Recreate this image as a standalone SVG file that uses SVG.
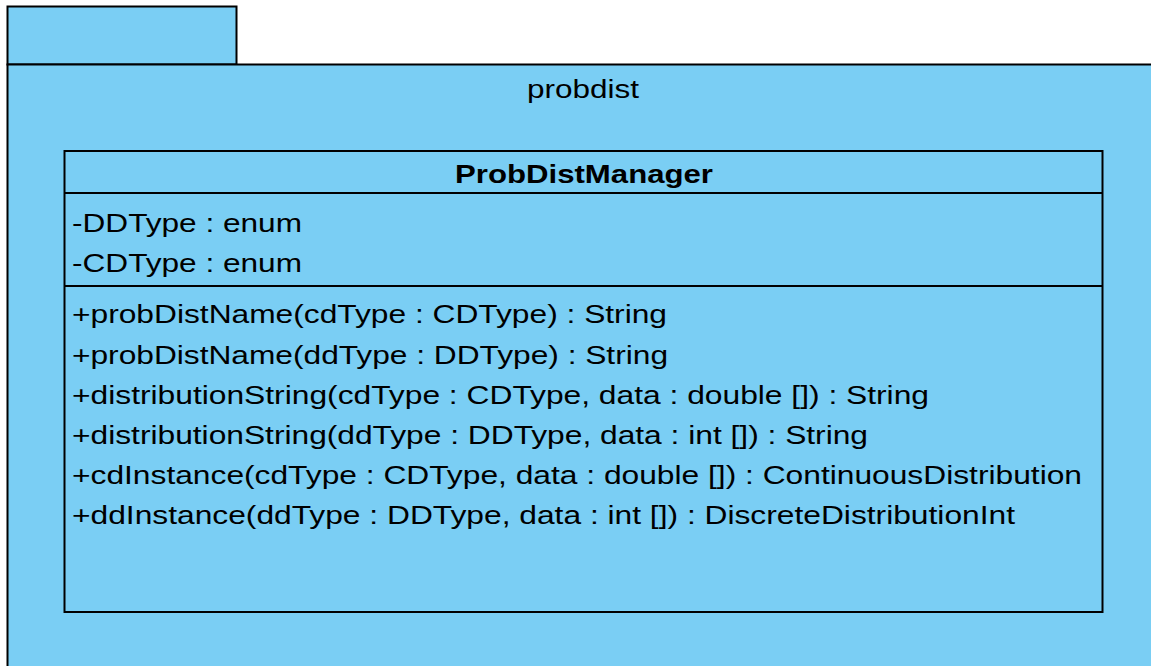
<svg xmlns="http://www.w3.org/2000/svg" width="1151" height="666" viewBox="0 0 1151 666">
<style>
.shape{fill:#7ACEF4;stroke:#000;stroke-width:2}
.ln{stroke:#000;stroke-width:2;fill:none}
.t{font-family:"Liberation Sans",Arial,sans-serif;font-size:25px;fill:#000}
.b{font-weight:bold}
</style>
<rect width="1151" height="666" fill="#fff"/>
<g id="package-probdist">
<rect class="shape" x="7.5" y="6.5" width="229" height="58"/>
<rect class="shape" x="7.5" y="64.5" width="1160" height="620"/>
<text class="t" x="583" y="98" text-anchor="middle" textLength="112" lengthAdjust="spacingAndGlyphs">probdist</text>
</g>
<g id="class-ProbDistManager">
<rect class="shape" x="64.5" y="151" width="1038" height="461"/>
<line class="ln" x1="64.5" y1="193" x2="1102.5" y2="193"/>
<line class="ln" x1="64.5" y1="286" x2="1102.5" y2="286"/>
<text class="t b" x="584" y="183" text-anchor="middle" textLength="258" lengthAdjust="spacingAndGlyphs">ProbDistManager</text>
<text class="t" x="72" y="232" textLength="230" lengthAdjust="spacingAndGlyphs">-DDType : enum</text>
<text class="t" x="72" y="272" textLength="230" lengthAdjust="spacingAndGlyphs">-CDType : enum</text>
<text class="t" x="72" y="323" textLength="595" lengthAdjust="spacingAndGlyphs">+probDistName(cdType : CDType) : String</text>
<text class="t" x="72" y="364" textLength="596" lengthAdjust="spacingAndGlyphs">+probDistName(ddType : DDType) : String</text>
<text class="t" x="72" y="404" textLength="857" lengthAdjust="spacingAndGlyphs">+distributionString(cdType : CDType, data : double []) : String</text>
<text class="t" x="72" y="444" textLength="796" lengthAdjust="spacingAndGlyphs">+distributionString(ddType : DDType, data : int []) : String</text>
<text class="t" x="72" y="484" textLength="1010" lengthAdjust="spacingAndGlyphs">+cdInstance(cdType : CDType, data : double []) : ContinuousDistribution</text>
<text class="t" x="72" y="524" textLength="943" lengthAdjust="spacingAndGlyphs">+ddInstance(ddType : DDType, data : int []) : DiscreteDistributionInt</text>
</g>
<g id="connectors"></g>
</svg>
